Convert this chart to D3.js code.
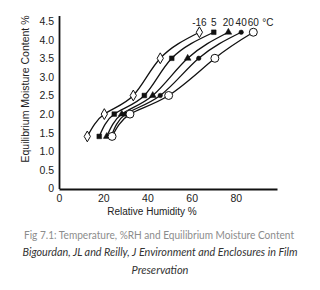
<!DOCTYPE html>
<html>
<head>
<meta charset="utf-8">
<script src="https://cdn.jsdelivr.net/npm/d3@7"></script>
<style>
  html, body { margin: 0; padding: 0; background: #fff; }
  svg { display: block; }
</style>
</head>
<body>
<div id="chart"></div>
<script>
// Equilibrium moisture content vs RH at several temperatures
const temps = ['-16', '5', '20', '40', '60'];
const symbols = ['diamond', 'square', 'triangle', 'dot', 'ring'];
const rhM16 = [12.8, 20.5, 33.6, 45.8, 63.5];
const rh5 = [18.2, 25.0, 38.6, 51.0, 70.0];
const rh20 = [21.6, 28.4, 42.4, 58.2, 76.6];
const rh40 = [23.6, 30.2, 45.8, 63.2, 82.4];
const rh60 = [24.0, 32.1, 49.6, 70.5, 87.9];
const emc = [1.4, 2.0, 2.5, 3.5, 4.2];
const xTicks = [0, 20, 40, 60, 80];
const yTicks = [0, 0.5, 1.0, 1.5, 2.0, 2.5, 3.0, 3.5, 4.0, 4.5];

const series = [rhM16, rh5, rh20, rh40, rh60].map((rh, i) => ({
  temp: temps[i], sym: symbols[i],
  pts: rh.map((x, j) => ({ x, y: emc[j] }))
}));

const W = 320, H = 290;
const svg = d3.select('#chart').append('svg')
  .attr('width', W).attr('height', H)
  .attr('viewBox', `0 0 ${W} ${H}`);

const x = d3.scaleLinear().domain([0, 98.6]).range([59, 277]);
const y = d3.scaleLinear().domain([0, 4.65]).range([188.5, 15.5]);

const axisFont = 'Liberation Sans, Arial, sans-serif';

// Axes (no tick marks, just labels)
svg.append('g').attr('transform', 'translate(0,189)')
  .call(d3.axisBottom(x).tickValues(xTicks).tickSize(0).tickPadding(6).tickFormat(d3.format('d')))
  .call(g => g.select('.domain').attr('stroke', '#111').attr('stroke-width', 1.8))
  .selectAll('text').attr('font-family', axisFont).attr('font-size', 10.5).attr('fill', '#222');

svg.append('g').attr('transform', 'translate(59,0)')
  .call(d3.axisLeft(y).tickValues(yTicks).tickSize(0).tickPadding(5)
    .tickFormat(d => d === 0 ? '0' : d3.format('.1f')(d)))
  .call(g => g.select('.domain').attr('stroke', '#111').attr('stroke-width', 1.8))
  .selectAll('text').attr('font-family', axisFont).attr('font-size', 10.5).attr('fill', '#222');

svg.append('text')
  .attr('x', 152).attr('y', 215)
  .attr('text-anchor', 'middle')
  .attr('font-family', axisFont).attr('font-size', 10).attr('fill', '#222')
  .text('Relative Humidity %');

svg.append('text')
  .attr('transform', 'translate(29,89) rotate(-90)')
  .attr('text-anchor', 'middle')
  .attr('font-family', axisFont).attr('font-size', 10.5).attr('fill', '#222')
  .text('Equilibrium Moisture Content %');

// Curves
const line = d3.line().x(d => x(d.x)).y(d => y(d.y)).curve(d3.curveNatural);

series.forEach(s => {
  svg.append('path')
    .attr('d', line(s.pts))
    .attr('fill', 'none').attr('stroke', '#111').attr('stroke-width', 1.3);
});

// Markers
const symGen = {
  diamond: d3.symbol().type(d3.symbolDiamond).size(34),
  square: d3.symbol().type(d3.symbolSquare).size(22),
  triangle: d3.symbol().type(d3.symbolTriangle).size(20),
  dot: d3.symbol().type(d3.symbolCircle).size(16),
  ring: d3.symbol().type(d3.symbolCircle).size(50)
};

series.forEach(s => {
  const open = s.sym === 'diamond' || s.sym === 'ring';
  svg.append('g').selectAll('path').data(s.pts).join('path')
    .attr('transform', d => `translate(${x(d.x)},${y(d.y)})`)
    .attr('d', symGen[s.sym]())
    .attr('fill', open ? '#fff' : '#111')
    .attr('stroke', '#111').attr('stroke-width', open ? 1 : 0.5);
});

// Temperature labels above the last point of each curve
series.forEach(s => {
  const last = s.pts[s.pts.length - 1];
  svg.append('text')
    .attr('x', x(last.x)).attr('y', y(last.y) - 6)
    .attr('text-anchor', 'middle')
    .attr('font-family', axisFont).attr('font-size', 10).attr('fill', '#222')
    .text(s.temp);
});
svg.append('text')
  .attr('x', x(rh60[4]) + 9).attr('y', y(emc[4]) - 6)
  .attr('font-family', axisFont).attr('font-size', 10).attr('fill', '#222')
  .text('°C');

// Caption
const capFont = 'Lato, "Noto Sans", sans-serif';
svg.append('text')
  .attr('x', 159).attr('y', 239)
  .attr('text-anchor', 'middle')
  .attr('font-family', capFont).attr('font-size', 11).attr('fill', '#8c8c8c')
  .attr('textLength', 270).attr('lengthAdjust', 'spacingAndGlyphs')
  .text('Fig 7.1: Temperature, %RH and Equilibrium Moisture Content');
svg.append('text')
  .attr('x', 160).attr('y', 256)
  .attr('text-anchor', 'middle')
  .attr('font-family', capFont).attr('font-size', 11).attr('font-style', 'italic').attr('fill', '#333')
  .attr('textLength', 275).attr('lengthAdjust', 'spacingAndGlyphs')
  .text('Bigourdan, JL and Reilly, J Environment and Enclosures in Film');
svg.append('text')
  .attr('x', 160).attr('y', 274)
  .attr('text-anchor', 'middle')
  .attr('font-family', capFont).attr('font-size', 11).attr('font-style', 'italic').attr('fill', '#333')
  .text('Preservation');
</script>
</body>
</html>
